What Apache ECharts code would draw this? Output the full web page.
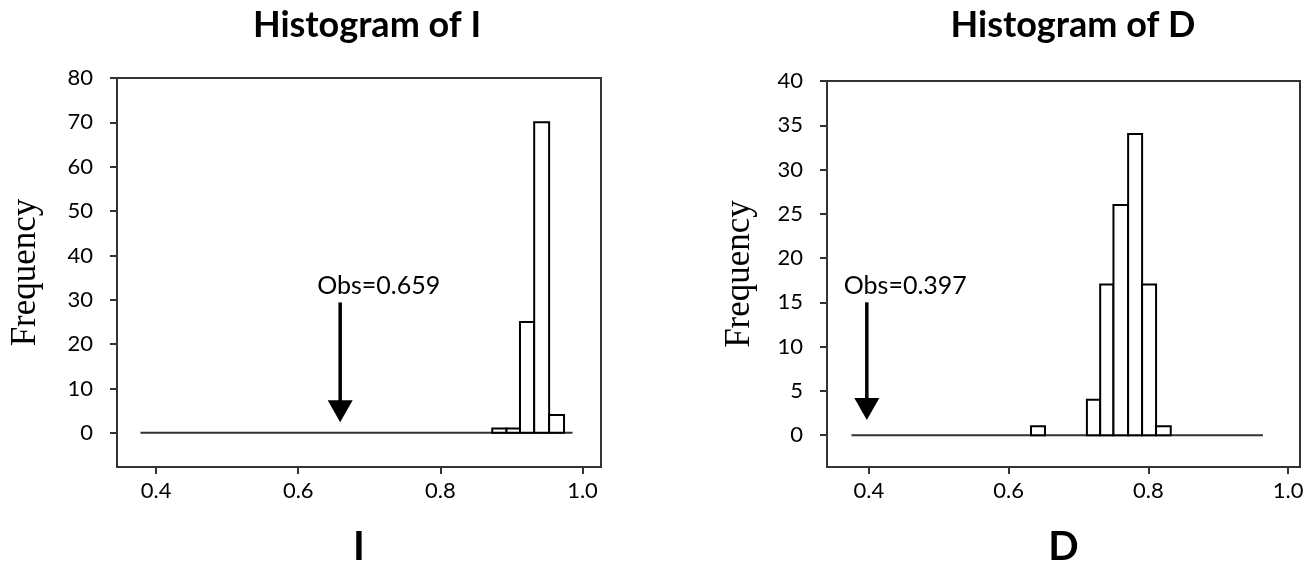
<!DOCTYPE html>
<html>
<head>
<meta charset="utf-8">
<script src="https://cdn.jsdelivr.net/npm/echarts@6/dist/echarts.min.js"></script>
<style>html,body{margin:0;padding:0;background:#fff}#c{width:1307px;height:563px}</style>
</head>
<body>
<div id="c"></div>
<script>
// ---- data ----
const titles = ['Histogram of I', 'Histogram of D'];
const xNames = ['I', 'D'];
const xTicks = [0.4, 0.6, 0.8, 1.0];
const yTicksI = [0, 10, 20, 30, 40, 50, 60, 70, 80];
const yTicksD = [0, 5, 10, 15, 20, 25, 30, 35, 40];
// histogram of I
const binStartI = [0.873, 0.893, 0.912, 0.932, 0.953];
const binEndI   = [0.893, 0.912, 0.932, 0.953, 0.974];
const countsI   = [1, 1, 25, 70, 4];
const baseI = [0.378, 0.986];
const obsI = 0.659;
// histogram of D
const binStartD = [0.632, 0.712, 0.731, 0.750, 0.771, 0.791, 0.811];
const binEndD   = [0.652, 0.731, 0.750, 0.771, 0.791, 0.811, 0.832];
const countsD   = [1, 4, 17, 26, 34, 17, 1];
const baseD = [0.375, 0.964];
const obsD = 0.397;
// arrow extents (frequency units): top of shaft, tip
const arrowI = [29.4, 2.4];
const arrowD = [15.0, 1.7];

const FONT = 'Lato';
const chart = echarts.init(document.getElementById('c'), null, {renderer: 'canvas'});

function bins(s, e, c) { return s.map((v, i) => [v, e[i], c[i]]); }

function barRender(params, api) {
  const p0 = api.coord([api.value(0), api.value(2)]);
  const p1 = api.coord([api.value(1), 0]);
  return {
    type: 'rect',
    shape: {x: p0[0], y: p0[1], width: p1[0] - p0[0], height: p1[1] - p0[1]},
    style: {fill: '#fff', stroke: '#000', lineWidth: 2}
  };
}

function arrowRender(params, api) {
  const x = api.value(0);
  const top = api.coord([x, api.value(1)]);
  const tip = api.coord([x, api.value(2)]);
  const headH = 22, headW = 25;
  return {
    type: 'group',
    children: [
      {type: 'line', shape: {x1: top[0], y1: top[1], x2: tip[0], y2: tip[1] - headH + 2},
       style: {stroke: '#000', lineWidth: 3.5}},
      {type: 'polygon', shape: {points: [[tip[0] - headW / 2, tip[1] - headH], [tip[0] + headW / 2, tip[1] - headH], [tip[0], tip[1]]]},
       style: {fill: '#000'}},
      {type: 'text', x: top[0] - 23, y: top[1] - 4,
       style: {text: 'Obs=' + x.toFixed(3), fill: '#000', font: '25px ' + FONT, textAlign: 'left', textVerticalAlign: 'bottom'}}
    ]
  };
}

function xAxis(idx, min, max, name) {
  return {
    type: 'value', gridIndex: idx, min: min, max: max,
    name: name, nameLocation: 'middle', nameGap: 60,
    nameTextStyle: {fontFamily: FONT, fontWeight: 'bold', fontSize: 40, color: '#000'},
    axisLine: {show: false, onZero: false},
    splitLine: {show: false},
    axisTick: {show: true, customValues: xTicks, length: 7, lineStyle: {color: '#333', width: 2}},
    axisLabel: {customValues: xTicks, margin: 13, fontFamily: FONT, fontSize: 22, color: '#000',
                formatter: v => v.toFixed(1)}
  };
}
function yAxis(idx, min, max, ticks, gap) {
  return {
    type: 'value', gridIndex: idx, min: min, max: max,
    name: 'Frequency', nameLocation: 'middle', nameGap: gap, nameRotate: 90,
    nameTextStyle: {fontFamily: 'Liberation Serif', fontSize: 35, color: '#000', verticalAlign: 'bottom'},
    axisLine: {show: false, onZero: false},
    splitLine: {show: false},
    axisTick: {show: true, customValues: ticks, length: 7, lineStyle: {color: '#333', width: 2}},
    axisLabel: {customValues: ticks, margin: 24, fontFamily: FONT, fontSize: 22, color: '#000'}
  };
}

chart.setOption({
  animation: false,
  title: [
    {text: titles[0], left: 362, top: 2, textAlign: 'center',
     textStyle: {fontFamily: FONT, fontWeight: 'bold', fontSize: 36, color: '#000'}},
    {text: titles[1], left: 1068, top: 2, textAlign: 'center',
     textStyle: {fontFamily: FONT, fontWeight: 'bold', fontSize: 36, color: '#000'}}
  ],
  grid: [
    {left: 117, top: 78, width: 484, height: 389, show: true, borderColor: '#333', borderWidth: 2,
     backgroundColor: 'transparent', containLabel: false, outerBoundsMode: 'none'},
    {left: 827, top: 81, width: 473, height: 386, show: true, borderColor: '#333', borderWidth: 2,
     backgroundColor: 'transparent', containLabel: false, outerBoundsMode: 'none'}
  ],
  xAxis: [xAxis(0, 0.345, 1.026, xNames[0]), xAxis(1, 0.340, 1.017, xNames[1])],
  yAxis: [yAxis(0, -7.7, 80, yTicksI, 74), yAxis(1, -3.6, 40, yTicksD, 70)],
  series: [
    {type: 'line', xAxisIndex: 0, yAxisIndex: 0, data: [[baseI[0], 0], [baseI[1], 0]],
     symbol: 'none', lineStyle: {color: '#333', width: 2}, z: 1},
    {type: 'custom', xAxisIndex: 0, yAxisIndex: 0, data: bins(binStartI, binEndI, countsI),
     renderItem: barRender, encode: {x: [0, 1], y: 2}, z: 2},
    {type: 'custom', xAxisIndex: 0, yAxisIndex: 0, data: [[obsI, arrowI[0], arrowI[1]]],
     renderItem: arrowRender, encode: {x: 0, y: [1, 2]}, z: 3},
    {type: 'line', xAxisIndex: 1, yAxisIndex: 1, data: [[baseD[0], 0], [baseD[1], 0]],
     symbol: 'none', lineStyle: {color: '#333', width: 2}, z: 1},
    {type: 'custom', xAxisIndex: 1, yAxisIndex: 1, data: bins(binStartD, binEndD, countsD),
     renderItem: barRender, encode: {x: [0, 1], y: 2}, z: 2},
    {type: 'custom', xAxisIndex: 1, yAxisIndex: 1, data: [[obsD, arrowD[0], arrowD[1]]],
     renderItem: arrowRender, encode: {x: 0, y: [1, 2]}, z: 3}
  ]
});
</script>
</body>
</html>
